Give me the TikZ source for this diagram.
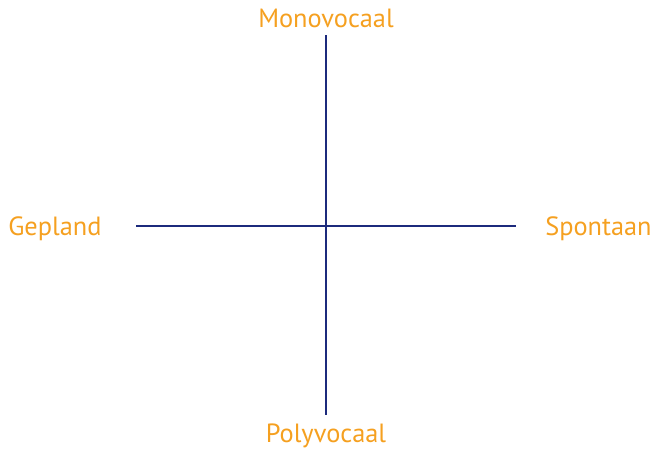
\documentclass[tikz,border=0pt]{standalone}
\usepackage{fontspec}
\setmainfont{PT Sans}
\definecolor{axisblue}{HTML}{1C2A7C}
\definecolor{labelorange}{HTML}{F5A020}
\begin{document}
\begin{tikzpicture}[x=0.02cm, y=-0.02cm]
    \tikzset{
      axis/.style={draw=axisblue, line width=1.5pt},
      pole/.style={text=labelorange, font=\fontsize{15}{18}\selectfont, inner sep=0pt},
    }
    \useasboundingbox (0,0) rectangle (653,450);
    \coordinate (top) at (326,35);
    \coordinate (bot) at (326,415);
    \coordinate (lft) at (136,226);
    \coordinate (rgt) at (516,226);
    \draw[axis] (top) -- (bot);
    \draw[axis] (lft) -- (rgt);

    \node[pole] (mono) at (326,18) {Monovocaal};
    \node[pole] (poly) at (326,436) {Polyvocaal};
    \node[pole, anchor=west] (gep) at (8,229) {Gepland};
    \node[pole, anchor=east] (spo) at (652,229) {Spontaan};
  \end{tikzpicture}
\end{document}
